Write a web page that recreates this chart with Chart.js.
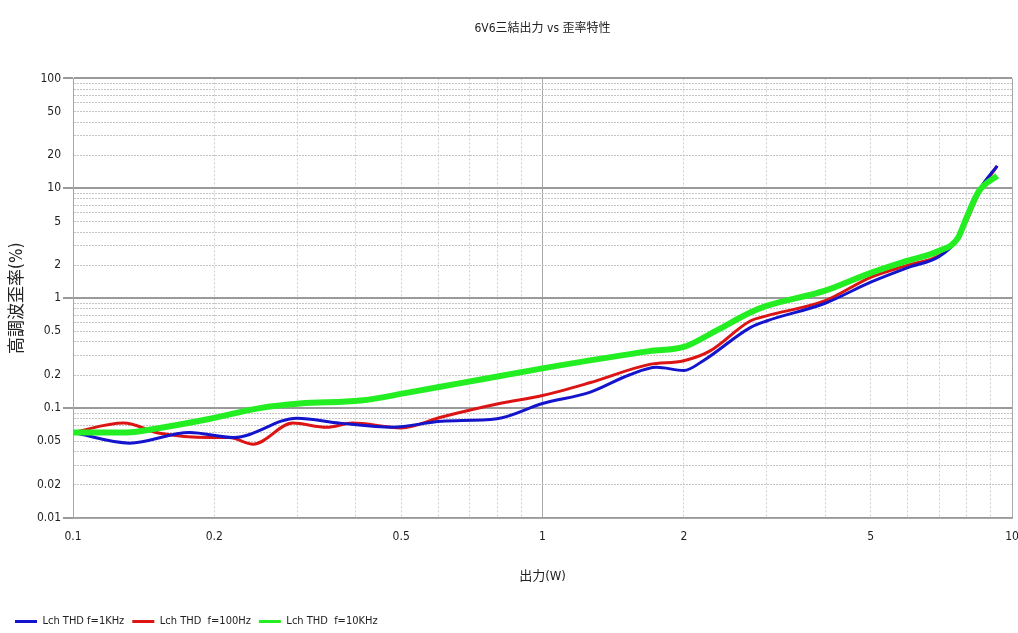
<!DOCTYPE html>
<html>
<head>
<meta charset="utf-8">
<script src="https://cdn.jsdelivr.net/npm/chart.js@4"></script>
<style>
  html, body { margin: 0; padding: 0; background: #fff; }
  #wrap { width: 1018px; height: 633px; }
</style>
</head>
<body>
<div id="wrap"><canvas id="Chart" width="1018" height="633"></canvas></div>
<script>
// 出力(W) / 歪率(%)
const thd1k = [
  [0.1, 0.060], [0.132, 0.048], [0.177, 0.060], [0.22, 0.054], [0.30, 0.081],
  [0.37, 0.073], [0.48, 0.067], [0.61, 0.076], [0.80, 0.080], [1.0, 0.11],
  [1.26, 0.139], [1.53, 0.20], [1.75, 0.235], [2.0, 0.22], [2.2, 0.27],
  [2.77, 0.54], [3.0, 0.62], [4.0, 0.90], [5.0, 1.4], [6.0, 1.9],
  [7.0, 2.4], [7.6, 3.3], [8.0, 5.2], [8.5, 9.5], [9.3, 16]
];
const thd100 = [
  [0.1, 0.060], [0.128, 0.073], [0.153, 0.059], [0.196, 0.054], [0.215, 0.054],
  [0.242, 0.047], [0.294, 0.073], [0.347, 0.067], [0.394, 0.073], [0.50, 0.066],
  [0.61, 0.083], [0.81, 0.11], [1.0, 0.13], [1.26, 0.17], [1.69, 0.25],
  [2.0, 0.27], [2.27, 0.33], [2.77, 0.62], [3.0, 0.69], [4.0, 0.95],
  [5.0, 1.55], [6.0, 2.0], [7.0, 2.45], [7.6, 3.3], [8.0, 5.0], [8.5, 9.0], [9.3, 16]
];
const thd10k = [
  [0.1, 0.060], [0.13, 0.060], [0.153, 0.066], [0.196, 0.080], [0.25, 0.10],
  [0.304, 0.11], [0.41, 0.117], [0.52, 0.139], [0.66, 0.167], [1.0, 0.23],
  [1.69, 0.33], [2.0, 0.36], [2.35, 0.51], [2.77, 0.74], [3.0, 0.85],
  [4.0, 1.17], [5.0, 1.7], [6.0, 2.2], [7.0, 2.7], [7.66, 3.5],
  [8.0, 5.4], [8.5, 9.4], [9.3, 13]
];
const seriesNames = ['Lch THD f=1KHz', 'Lch THD  f=100Hz', 'Lch THD  f=10KHz'];
const xTickLabels = [0.1, 0.2, 0.5, 1, 2, 5, 10];
const yTickLabels = [0.01, 0.02, 0.05, 0.1, 0.2, 0.5, 1, 2, 5, 10, 20, 50, 100];

const FONT = "'DejaVu Sans Condensed', 'Noto Sans CJK JP', sans-serif";

function logGrid(minExp, maxExp) {
  const out = [];
  for (let e = minExp; e < maxExp; e++) {
    for (let m = 1; m < 10; m++) out.push(parseFloat((m * Math.pow(10, e)).toPrecision(3)));
  }
  out.push(Math.pow(10, maxExp));
  return out;
}
function isDecade(v) {
  const l = Math.log10(v);
  return Math.abs(l - Math.round(l)) < 1e-9;
}
function pts(arr) { return arr.map(p => ({ x: p[0], y: p[1] })); }

const ctx = document.getElementById('Chart').getContext('2d');
const myChart = new Chart(ctx, {
  type: 'line',
  data: {
    datasets: [
      { label: seriesNames[0], data: pts(thd1k), borderColor: '#1414cc', backgroundColor: '#1414cc', borderWidth: 3, order: 1 },
      { label: seriesNames[1], data: pts(thd100), borderColor: '#dc1414', backgroundColor: '#dc1414', borderWidth: 3, order: 2 },
      { label: seriesNames[2], data: pts(thd10k), borderColor: '#22ee22', backgroundColor: '#22ee22', borderWidth: 6, order: 0 }
    ]
  },
  options: {
    responsive: false,
    animation: false,
    elements: {
      point: { radius: 0 },
      line: { tension: 0.4, cubicInterpolationMode: 'monotone' }
    },
    layout: { padding: { left: 7, right: 6, top: 0, bottom: -4 } },
    plugins: {
      title: {
        display: true,
        text: '6V6三結出力 vs 歪率特性',
        fullSize: false,
        color: '#222',
        font: { family: FONT, size: 12, weight: 'normal' },
        padding: { top: 22, bottom: 42 }
      },
      legend: {
        position: 'bottom',
        align: 'start',
        labels: {
          boxWidth: 22,
          boxHeight: 3,
          padding: 8,
          color: '#222',
          font: { family: FONT, size: 11 },
          sort: (a, b) => a.datasetIndex - b.datasetIndex,
          generateLabels: (chart) => {
            const items = Chart.defaults.plugins.legend.labels.generateLabels(chart);
            items.forEach(it => { it.lineWidth = 0; });
            return items;
          }
        }
      },
      tooltip: { enabled: false }
    },
    scales: {
      x: {
        type: 'logarithmic',
        min: 0.1,
        max: 10,
        afterBuildTicks: (s) => { s.ticks = logGrid(-1, 1).map(v => ({ value: v })); },
        afterFit: (s) => { s.height = 90; s.paddingRight = 0; s.paddingLeft = 0; },
        ticks: {
          autoSkip: false,
          maxRotation: 0,
          padding: 12,
          color: '#222',
          font: { family: FONT, size: 12 },
          callback: (v) => xTickLabels.includes(v) ? String(v) : ''
        },
        grid: {
          drawTicks: false,
          color: (c) => (c.tick && isDecade(c.tick.value)) ? '#a8a8a8' : '#cfcfcf',
          lineWidth: 1
        },
        border: {
          color: '#a8a8a8',
          width: 1,
          dash: (c) => (c.tick && !isDecade(c.tick.value)) ? [2, 2] : []
        },
        title: {
          display: true,
          text: '出力(W)',
          color: '#222',
          font: { family: FONT, size: 13 },
          padding: { top: 0, bottom: 24 }
        }
      },
      y: {
        type: 'logarithmic',
        min: 0.01,
        max: 100,
        afterBuildTicks: (s) => { s.ticks = logGrid(-2, 2).map(v => ({ value: v })); },
        afterFit: (s) => { s.width = 66; },
        ticks: {
          autoSkip: false,
          padding: 2,
          color: '#222',
          font: { family: FONT, size: 12 },
          callback: (v) => yTickLabels.includes(v) ? String(v) : ''
        },
        grid: {
          drawTicks: true,
          tickLength: 10,
          tickColor: (c) => (c.tick && isDecade(c.tick.value)) ? '#9a9a9a' : 'rgba(0,0,0,0)',
          color: (c) => (c.tick && isDecade(c.tick.value)) ? '#9a9a9a' : '#c4c4c4',
          lineWidth: (c) => (c.tick && isDecade(c.tick.value)) ? 2 : 1
        },
        border: {
          color: '#a8a8a8',
          width: 1,
          dash: (c) => (c.tick && !isDecade(c.tick.value)) ? [2, 1] : []
        },
        title: {
          display: true,
          text: '高調波歪率(%)',
          color: '#222',
          font: { family: FONT, size: 17 },
          padding: { top: 0, bottom: 0 }
        }
      }
    }
  }
});
</script>
</body>
</html>
